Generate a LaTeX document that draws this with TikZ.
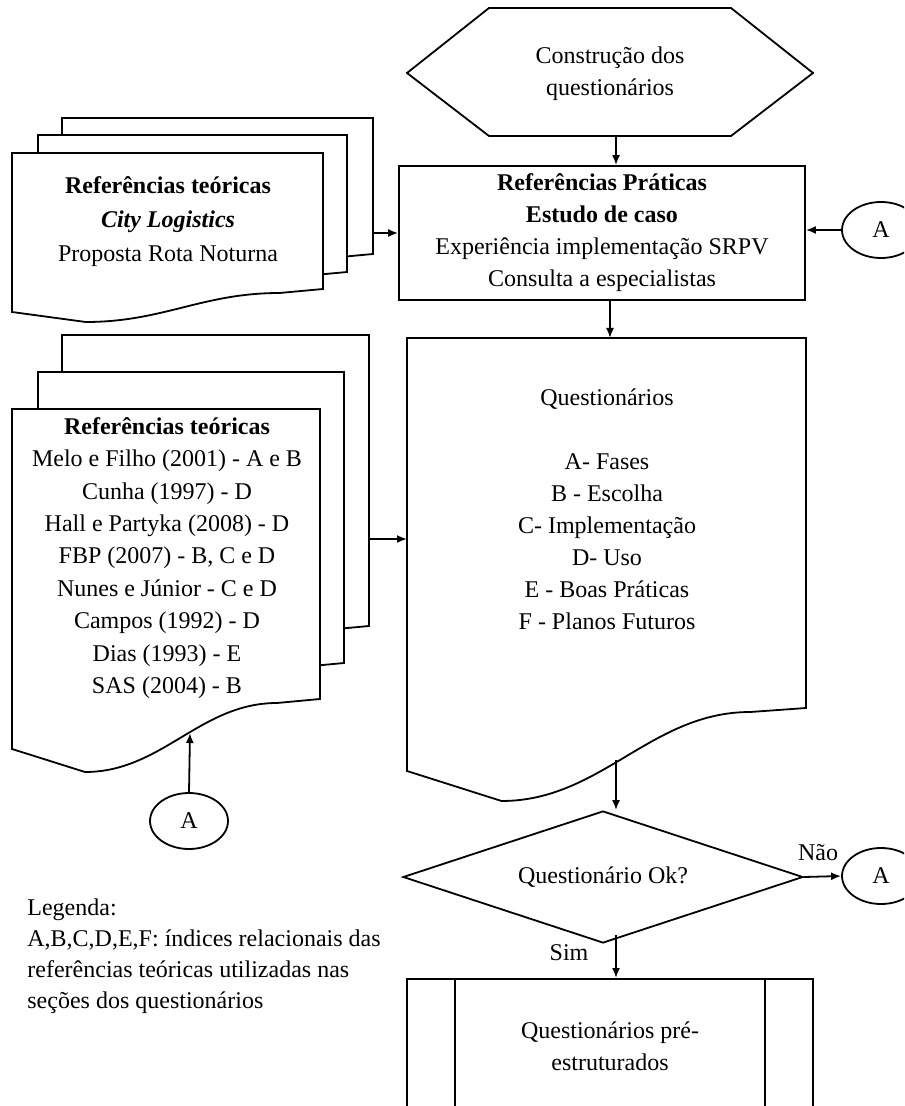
\documentclass[tikz,border=0pt]{standalone}
\usepackage{fontspec}
\setmainfont{Liberation Serif}
\usetikzlibrary{shapes.geometric,arrows.meta}
\tikzset{
  flow/.style={line width=0.9pt},
  link/.style={flow,-{Latex[length=5pt,width=4pt]}},
  txt/.style={inner sep=0pt,align=center,font=\fontsize{12}{16}\selectfont},
  box/.style={txt,draw,flow,minimum width=203pt,minimum height=67pt},
  conn/.style={txt,draw,flow,ellipse,minimum width=39pt,minimum height=28pt},
}
\newcommand\docshape[6]{%
  \pgfmathsetmacro\dxm{#1+0.237*(#3-#1)}%
  \pgfmathsetmacro\dxe{#1+0.86*(#3-#1)}%
  \pgfmathsetmacro\dym{#4+#5}%
  \pgfmathsetmacro\dye{#6+4}%
  \pgfmathsetmacro\dca{\dxm+0.4*(\dxe-\dxm)}%
  \pgfmathsetmacro\dcb{\dxe-0.4*(\dxe-\dxm)}%
  \draw[flow,fill=white] (#1,#2) -- (#3,#2) -- (#3,#6) -- (\dxe,\dye)
    .. controls (\dcb,\dye) and (\dca,\dym) .. (\dxm,\dym) -- (#1,#4) -- cycle;%
}
\begin{document}
\begin{tikzpicture}[x=0.5pt,y=-0.5pt]
  \useasboundingbox (0,0) rectangle (904,1106);
  \clip (0,0) rectangle (904,1106);

  \docshape{62}{118}{373}{277}{10}{254}
  \docshape{38}{135}{347}{295}{10}{272}
  \docshape{12}{153}{323}{312}{10}{289}
  \docshape{62}{335}{369}{676}{23}{626}
  \docshape{38}{372}{344}{713}{23}{663}
  \docshape{12}{409}{320}{749}{23}{699}
  \docshape{407}{338}{806}{771}{30}{708}
  \draw[flow] (407,73) -- (489,8) -- (731,8) -- (813,73) -- (731,136) -- (489,136) -- cycle;

  \node[txt] (hex) at (610,74) {Construção dos\\questionários};
  \node[txt,font=\fontsize{12}{17}\selectfont] (refA) at (168,222)
    {\textbf{Referências teóricas}\\\textbf{\textit{City Logistics}}\\Proposta Rota Noturna};
  \node[box] (prat) at (602,233)
    {\textbf{Referências Práticas}\\\textbf{Estudo de caso}\\Experiência implementação SRPV\\Consulta a especialistas};
  \node[txt,font=\fontsize{12}{16.2}\selectfont] (refB) at (167,558)
    {\textbf{Referências teóricas}\\Melo e Filho (2001) - A e B\\Cunha (1997) - D\\Hall e Partyka (2008) - D\\FBP (2007) - B, C e D\\Nunes e Júnior - C e D\\Campos (1992) - D\\Dias (1993) - E\\SAS (2004) - B};
  \node[txt] (quest) at (607,509)
    {Questionários\\[16pt]A- Fases\\B - Escolha\\C- Implementação\\D- Uso\\E - Boas Práticas\\F - Planos Futuros};
  \node[txt,draw,flow,diamond,aspect=3,minimum width=200pt,minimum height=66pt] (dec) at (603,877) {Questionário Ok?};
  \node[draw,flow,minimum width=203pt,minimum height=100pt,inner sep=0pt,anchor=north] (pre) at (610,978) {};
  \draw[flow] ([xshift=24.5pt]pre.north west) -- ([xshift=24.5pt]pre.south west);
  \draw[flow] ([xshift=-24.5pt]pre.north east) -- ([xshift=-24.5pt]pre.south east);
  \node[txt] (pretxt) at (610,1046) {Questionários pré-\\estruturados};

  \node[conn] (conA1) at (881,230) {A};
  \node[conn] (conA2) at (189,821) {A};
  \node[conn] (conA3) at (881,876) {A};
  \node[txt] (nao) at (818,853) {Não};
  \node[txt] (sim) at (569,953) {Sim};
  \node[txt,align=left,anchor=west,font=\fontsize{12}{15.5}\selectfont] (leg) at (27,956)
    {Legenda:\\A,B,C,D,E,F: índices relacionais das\\referências teóricas utilizadas nas\\seções dos questionários};

  \coordinate (hexbot) at (616,136);
  \coordinate (refAout) at (373,233);
  \coordinate (refBout) at (369,539);
  \coordinate (refBbot) at (190,733);
  \coordinate (questop) at (610,338);
  \coordinate (questin) at (407,539);
  \coordinate (questout) at (616,760);
  \coordinate (decout) at (616,935);

  \draw[link] (hexbot) -- (hexbot |- prat.north);
  \draw[link] (refAout) -- (refAout -| prat.west);
  \draw[link] (conA1.west) -- (conA1.west -| prat.east);
  \draw[link] (questop |- prat.south) -- (questop);
  \draw[link] (refBout) -- (questin);
  \draw[link] (conA2.north) -- (refBbot);
  \draw[link] (questout) -- (questout |- dec.north);
  \draw[link] (dec.east) -- (conA3.west);
  \draw[link] (decout) -- (decout |- pre.north);
\end{tikzpicture}
\end{document}
